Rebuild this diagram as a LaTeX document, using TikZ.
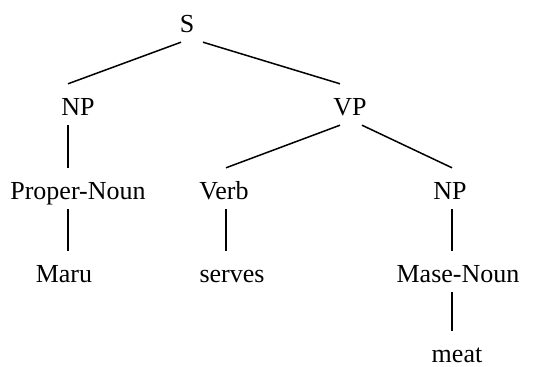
\documentclass[tikz,border=0pt]{standalone}
\usepackage{fontspec}
\setmainfont{Liberation Serif}
\usetikzlibrary{positioning}

\begin{document}
\begin{tikzpicture}[
    x=1pt, y=-1pt,
    word/.style={anchor=base, inner sep=3pt, text height=28pt, text depth=7pt,
                 font=\fontsize{26}{30}\selectfont},
    branch/.style={line width=1.5pt}
]
    \useasboundingbox (0, 0) rectangle (555, 367);

    \node[word] (S) at (187, 32) {S};
    \node[word] (np1) at (78, 115) {NP};
    \node[word] (vp) at (350, 115) {VP};
    \node[word] (pn) at (78, 199) {Proper-Noun};
    \node[word] (verb) at (224, 199) {Verb};
    \node[word] (np2) at (450, 199) {NP};
    \node[word] (maru) at (64, 282) {Maru};
    \node[word] (serves) at (232, 282) {serves};
    \node[word] (mn) at (458, 282) {Mase-Noun};
    \node[word] (meat) at (457, 362) {meat};

    \draw[branch] ([xshift=-6pt]S.south) -- ([xshift=-10pt]np1.north);
    \draw[branch] ([xshift=16pt]S.south) -- ([xshift=-10pt]vp.north);
    \draw[branch] ([xshift=-10pt]np1.south) -- ([xshift=-10pt]pn.north);
    \draw[branch] ([xshift=-10pt]pn.south) -- ([xshift=4pt]maru.north);
    \draw[branch] ([xshift=-10pt]vp.south) -- ([xshift=2pt]verb.north);
    \draw[branch] ([xshift=12pt]vp.south) -- ([xshift=2pt]np2.north);
    \draw[branch] ([xshift=2pt]verb.south) -- ([xshift=-6pt]serves.north);
    \draw[branch] ([xshift=2pt]np2.south) -- ([xshift=-6pt]mn.north);
    \draw[branch] ([xshift=-6pt]mn.south) -- ([xshift=-5pt]meat.north);
\end{tikzpicture}
\end{document}
